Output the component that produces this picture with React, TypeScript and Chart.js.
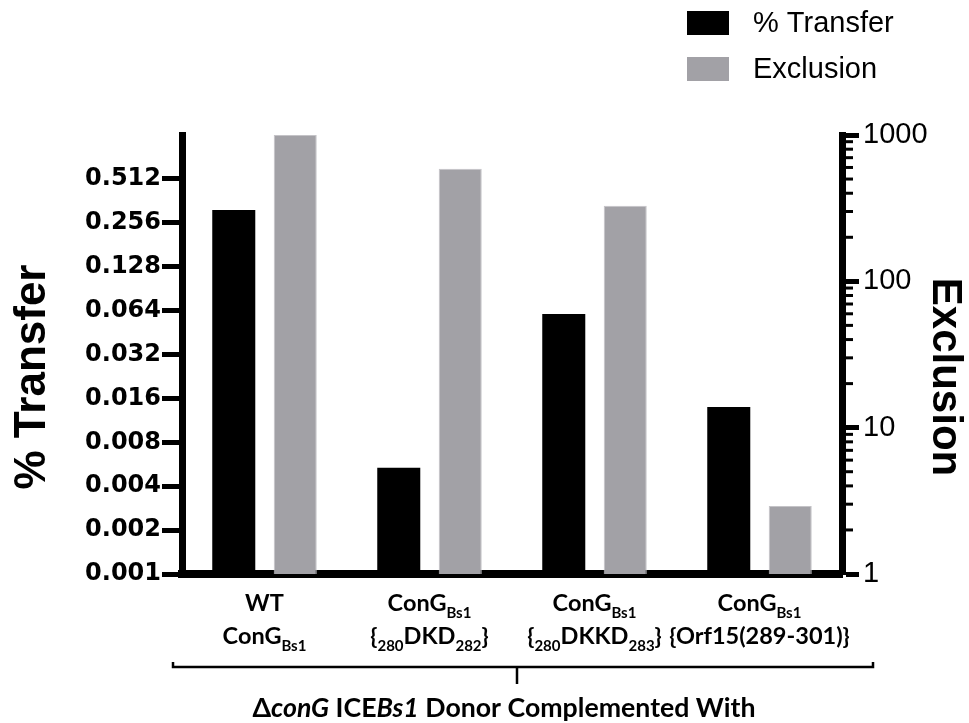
import React, { useEffect, useRef } from "react";
import { Chart, registerables } from "chart.js";

Chart.register(...registerables);

// ---------- data ----------
// Category labels, two lines each; text inside [ ] is drawn as a subscript.
const categories: string[][] = [
  ["WT", "ConG[Bs1]"],
  ["ConG[Bs1]", "{[280]DKD[282]}"],
  ["ConG[Bs1]", "{[280]DKKD[283]}"],
  ["ConG[Bs1]", "{Orf15(289-301)}"],
];
const seriesNames = ["% Transfer", "Exclusion"];
const transferValues = [0.313, 0.00535, 0.0606, 0.01396];
const exclusionValues = [1000, 587, 328, 2.92];

const leftTicks = [0.001, 0.002, 0.004, 0.008, 0.016, 0.032, 0.064, 0.128, 0.256, 0.512];
const leftTickLabels = ["0.001", "0.002", "0.004", "0.008", "0.016", "0.032", "0.064", "0.128", "0.256", "0.512"];
const leftRange = [0.001, 1.024];
const rightTicks = [1, 10, 100, 1000];
const rightTickLabels = ["1", "10", "100", "1000"];
const rightRange = [1, 1000];
const minorMultipliers = [2, 3, 4, 5, 6, 7, 8, 9];

const leftTitle = "% Transfer";
const rightTitle = "Exclusion";
// text inside * * is italic
const xTitle = "Δ*conG* ICE*Bs1* Donor Complemented With";

// ---------- styles ----------
const BLACK = "#000000";
const GREY = "#a2a1a6";
const LABEL_FONT = 'bold 23.5px Lato, "Open Sans", sans-serif';
const SUB_FONT = 'bold 15px Lato, "Open Sans", sans-serif';
const XTITLE_FONT = 'bold 26.7px Lato, "Open Sans", sans-serif';
const XTITLE_IFONT = 'italic bold 26.7px Lato, "Open Sans", sans-serif';

type Seg = { t: string; sub?: boolean; it?: boolean };

function parseSub(s: string): Seg[] {
  return s
    .split(/(\[[^\]]*\])/)
    .filter((p) => p.length > 0)
    .map((p) => (p.startsWith("[") ? { t: p.slice(1, -1), sub: true } : { t: p }));
}
function parseItalic(s: string): Seg[] {
  return s
    .split(/(\*[^*]*\*)/)
    .filter((p) => p.length > 0)
    .map((p) => (p.startsWith("*") ? { t: p.slice(1, -1), it: true } : { t: p }));
}

function drawRich(
  ctx: CanvasRenderingContext2D,
  segs: Seg[],
  cx: number,
  baseline: number,
  fontFor: (s: Seg) => string,
  dyFor: (s: Seg) => number
) {
  let total = 0;
  const widths = segs.map((s) => {
    ctx.font = fontFor(s);
    const w = ctx.measureText(s.t).width;
    total += w;
    return w;
  });
  let x = cx - total / 2;
  ctx.textAlign = "left";
  ctx.textBaseline = "alphabetic";
  segs.forEach((s, i) => {
    ctx.font = fontFor(s);
    ctx.fillText(s.t, x, baseline + dyFor(s));
    x += widths[i];
  });
}

const overlayPlugin = {
  id: "overlay",
  afterDraw(chart: any) {
    const { ctx, chartArea, scales } = chart;
    const xs = scales.x;
    const yr = scales.y1;
    ctx.save();
    ctx.fillStyle = BLACK;
    ctx.strokeStyle = BLACK;

    // right axis minor ticks
    ctx.lineWidth = 3;
    for (let i = 0; i < rightTicks.length - 1; i++) {
      minorMultipliers.forEach((m) => {
        const py = yr.getPixelForValue(rightTicks[i] * m);
        ctx.beginPath();
        ctx.moveTo(chartArea.right, py);
        ctx.lineTo(chartArea.right + 11, py);
        ctx.stroke();
      });
    }

    // category labels
    categories.forEach((lines, i) => {
      const cx = xs.getPixelForValue(i);
      lines.forEach((line, j) => {
        drawRich(
          ctx,
          parseSub(line),
          cx,
          chartArea.bottom + 37 + j * 33,
          (s) => (s.sub ? SUB_FONT : LABEL_FONT),
          (s) => (s.sub ? 7 : 0)
        );
      });
    });

    // bracket
    const bl = chartArea.left - 9;
    const br = chartArea.right + 31;
    const by = chartArea.bottom + 93;
    const bc = chartArea.left + 335;
    ctx.lineWidth = 2.5;
    ctx.beginPath();
    ctx.moveTo(bl, by - 5);
    ctx.lineTo(bl, by);
    ctx.lineTo(br, by);
    ctx.lineTo(br, by - 5);
    ctx.moveTo(bc, by);
    ctx.lineTo(bc, by + 17);
    ctx.stroke();

    // x title
    drawRich(
      ctx,
      parseItalic(xTitle),
      chartArea.left + 322,
      chartArea.bottom + 143,
      (s) => (s.it ? XTITLE_IFONT : XTITLE_FONT),
      () => 0
    );

    // axis titles
    ctx.textAlign = "center";
    ctx.textBaseline = "middle";
    ctx.save();
    ctx.translate(33, 377);
    ctx.rotate(-Math.PI / 2);
    ctx.font = 'bold 44px "Liberation Sans", Arial, sans-serif';
    ctx.fillText(leftTitle, 0, 0);
    ctx.restore();
    ctx.save();
    ctx.translate(945, 377);
    ctx.rotate(Math.PI / 2);
    ctx.font = 'bold 42px "Liberation Sans", Arial, sans-serif';
    ctx.fillText(rightTitle, 0, 0);
    ctx.restore();

    // legend
    const ds = chart.data.datasets;
    ctx.font = '29px "Liberation Sans", Arial, sans-serif';
    ctx.textAlign = "left";
    ctx.textBaseline = "middle";
    ds.forEach((d: any, i: number) => {
      const top = 11 + i * 46;
      ctx.fillStyle = d.backgroundColor;
      ctx.fillRect(687, top, 42, 24);
      ctx.fillStyle = BLACK;
      ctx.fillText(d.label, 753, top + 13);
    });

    ctx.restore();
  },
};

export default function App() {
  const ref = useRef<HTMLCanvasElement | null>(null);

  useEffect(() => {
    if (!ref.current) return;
    const chart = new Chart(ref.current, {
      type: "bar",
      data: {
        labels: categories.map((c) => c.join(" ").replace(/[\[\]]/g, "")),
        datasets: [
          {
            label: seriesNames[0],
            data: transferValues,
            backgroundColor: BLACK,
            yAxisID: "y",
            categoryPercentage: 0.745,
            barPercentage: 0.7,
          },
          {
            label: seriesNames[1],
            data: exclusionValues,
            backgroundColor: GREY,
            borderColor: "#c4c3c7",
            borderWidth: 1,
            yAxisID: "y1",
            categoryPercentage: 0.745,
            barPercentage: 0.7,
          },
        ],
      },
      options: {
        responsive: false,
        animation: false,
        layout: { padding: { top: 135, left: 0, right: 0, bottom: 0 } },
        plugins: {
          legend: { display: false },
          tooltip: { enabled: false },
          title: { display: false },
        },
        scales: {
          x: {
            type: "category",
            grid: { display: false },
            border: { display: true, width: 8, color: BLACK },
            ticks: { display: false },
            afterFit: (s: any) => {
              s.height = 149;
            },
          },
          y: {
            type: "logarithmic",
            position: "left",
            min: leftRange[0],
            max: leftRange[1],
            grid: {
              display: true,
              drawOnChartArea: false,
              drawTicks: true,
              tickLength: 20,
              tickWidth: 5,
              tickColor: BLACK,
            },
            border: { display: true, width: 7, color: BLACK },
            afterBuildTicks: (s: any) => {
              s.ticks = leftTicks.map((v) => ({ value: v }));
            },
            ticks: {
              autoSkip: false,
              padding: 1,
              color: BLACK,
              font: { family: '"DejaVu Sans"', weight: "bold", size: 24 },
              callback: (v: any) => {
                const i = leftTicks.findIndex((t) => Math.abs(t - v) < 1e-9);
                return i >= 0 ? leftTickLabels[i] : "";
              },
            },
            afterFit: (s: any) => {
              s.width = 182;
            },
          },
          y1: {
            type: "logarithmic",
            position: "right",
            min: rightRange[0],
            max: rightRange[1],
            grid: {
              display: true,
              drawOnChartArea: false,
              drawTicks: true,
              tickLength: 17,
              tickWidth: 5,
              tickColor: BLACK,
            },
            border: { display: true, width: 7, color: BLACK },
            afterBuildTicks: (s: any) => {
              s.ticks = rightTicks.map((v) => ({ value: v }));
            },
            ticks: {
              autoSkip: false,
              padding: 4,
              color: BLACK,
              font: { family: '"Liberation Sans", Arial', weight: "normal", size: 29 },
              callback: (v: any) => {
                const i = rightTicks.findIndex((t) => Math.abs(t - v) < 1e-9);
                return i >= 0 ? rightTickLabels[i] : "";
              },
            },
            afterFit: (s: any) => {
              s.width = 127;
            },
          },
        },
      } as any,
      plugins: [overlayPlugin],
    });
    return () => chart.destroy();
  }, []);

  return (
    <div style={{ position: "absolute", left: 0, top: 0, width: 969, height: 723, background: "#fff" }}>
      <canvas ref={ref} width={969} height={723} style={{ display: "block" }} />
    </div>
  );
}
